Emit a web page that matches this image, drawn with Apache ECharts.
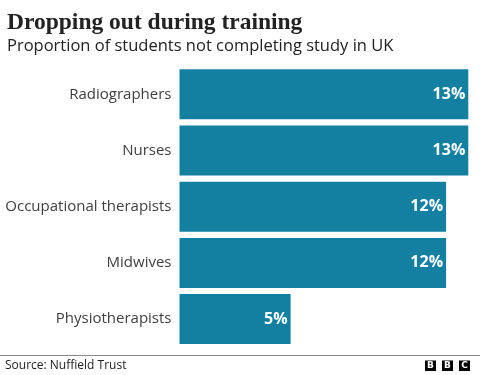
<!DOCTYPE html>
<html><head><meta charset="utf-8">
<script src="https://cdn.jsdelivr.net/npm/echarts@6/dist/echarts.min.js"></script>
<style>html,body{margin:0;padding:0;background:#fff}#c{width:480px;height:375px}</style>
</head><body><div id="c"></div>
<script>
const categories = ["Radiographers", "Nurses", "Occupational therapists", "Midwives", "Physiotherapists"];
const values = [13, 13, 12, 12, 5];
const titleText = "Dropping out during training";
const subtitleText = "Proportion of students not completing study in UK";
const sourceText = "Source: Nuffield Trust";

const chart = echarts.init(document.getElementById('c'), null, {renderer: 'canvas'});
const sans = '"Open Sans", "Noto Sans", sans-serif';
chart.setOption({
  animation: false,
  backgroundColor: '#fff',
  grid: {left: 179.5, right: 11.7, top: 66.2, height: 281, containLabel: false},
  xAxis: {type: 'value', min: 0, max: 13, show: false},
  yAxis: {
    type: 'category', data: categories, inverse: true,
    axisLine: {show: false}, axisTick: {show: false}, splitLine: {show: false},
    axisLabel: {margin: 8, fontSize: 15, color: '#404040', fontFamily: sans}
  },
  series: [{
    type: 'bar', data: values, barCategoryGap: '11%',
    itemStyle: {color: '#1380A1'},
    label: {
      show: true, position: 'insideRight', distance: 3,
      formatter: p => p.value + '%',
      color: '#fff', fontWeight: 'bold', fontSize: 16, fontFamily: sans
    }
  }],
  graphic: [
    {type: 'text', left: 7, top: 11, style: {text: titleText, font: 'bold 23.5px "Liberation Serif", serif', fill: '#222'}},
    {type: 'text', left: 7, top: 38, style: {text: subtitleText, font: '16.5px ' + sans, fill: '#222'}},
    {type: 'line', shape: {x1: 0, y1: 355.5, x2: 480, y2: 355.5}, style: {stroke: '#888', lineWidth: 1}},
    {type: 'text', left: 5, top: 359.5, style: {text: sourceText, font: '12px ' + sans, fill: '#222'}},
    {type: 'rect', shape: {x: 425, y: 360.5, width: 11, height: 10.5}, style: {fill: '#000'}},
    {type: 'rect', shape: {x: 442, y: 360.5, width: 11, height: 10.5}, style: {fill: '#000'}},
    {type: 'rect', shape: {x: 459, y: 360.5, width: 11, height: 10.5}, style: {fill: '#000'}},
    {type: 'text', x: 430.5, y: 366, style: {text: 'B', font: 'bold 9px "DejaVu Sans", sans-serif', fill: '#fff', align: 'center', verticalAlign: 'middle'}},
    {type: 'text', x: 447.5, y: 366, style: {text: 'B', font: 'bold 9px "DejaVu Sans", sans-serif', fill: '#fff', align: 'center', verticalAlign: 'middle'}},
    {type: 'text', x: 464.5, y: 366, style: {text: 'C', font: 'bold 9px "DejaVu Sans", sans-serif', fill: '#fff', align: 'center', verticalAlign: 'middle'}}
  ]
});
</script></body></html>
